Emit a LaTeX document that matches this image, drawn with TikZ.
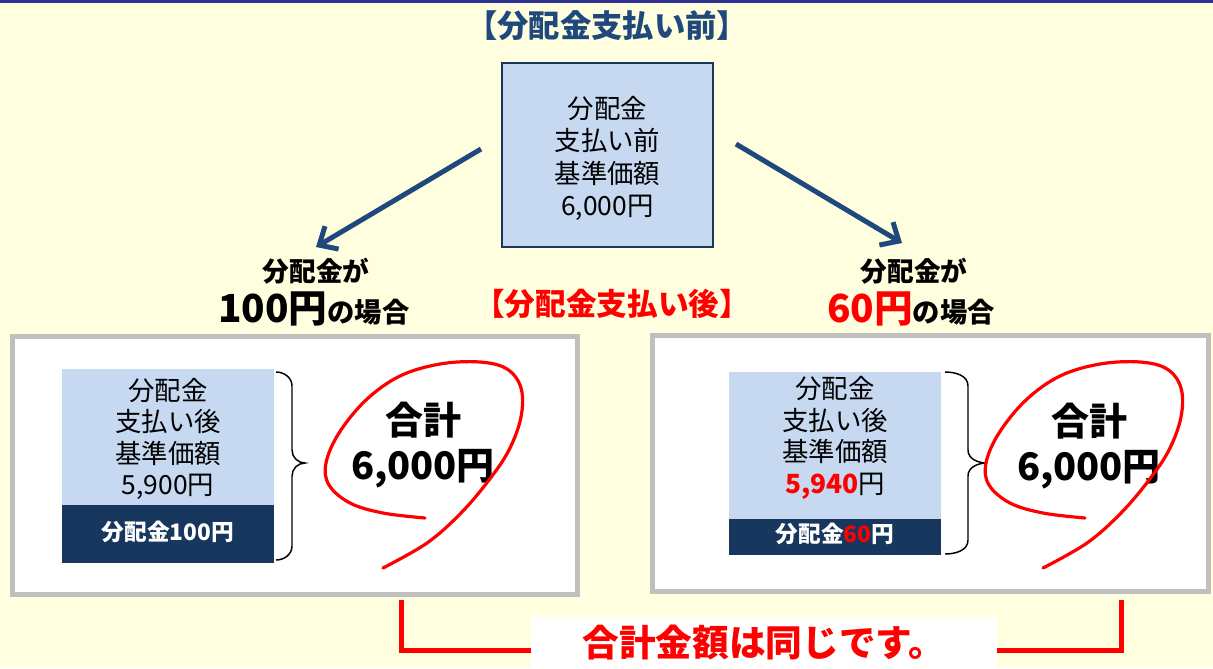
\documentclass[tikz,border=0pt]{standalone}
\usepackage{fontspec}
\setmainfont{Noto Sans CJK JP}
\usetikzlibrary{arrows.meta}
\definecolor{bgyellow}{RGB}{255,255,224}
\definecolor{topline}{RGB}{46,49,146}
\definecolor{titleblue}{RGB}{31,73,125}
\definecolor{paleblue}{RGB}{198,217,241}
\definecolor{darknavy}{RGB}{23,55,94}
\definecolor{panelgray}{RGB}{191,191,191}
\definecolor{hotred}{RGB}{255,0,0}
\newcommand\fsz[2]{\fontsize{#1pt}{#2pt}\selectfont}
\tikzset{
  txt/.style={inner sep=0pt, align=center},
  boxtext/.style={txt, font=\fsz{19.8}{23.6}},
  panel/.style={draw=panelgray, line width=3.75pt, fill=white, inner sep=0pt},
  bluebox/.style={fill=paleblue, inner sep=0pt, minimum width=159pt},
  navybox/.style={fill=darknavy, inner sep=0pt, minimum width=159pt},
  navytext/.style={txt, text=white, font=\fsz{17}{20}\bfseries},
  sumtext/.style={txt, font=\fsz{28.5}{34}\bfseries},
  bluearrow/.style={draw=titleblue, line width=3.75pt, -{Straight Barb[length=11pt,width=20pt]}},
  redloop/.style={draw=hotred, line width=2.4pt, line cap=round, line join=round},
  bracestyle/.style={draw=black, line width=1.1pt},
  redline/.style={draw=hotred, line width=3.75pt},
  headlbl/.style={txt, font=\fsz{20}{24}\bfseries},
}
\begin{document}
\begin{tikzpicture}[x=0.75pt,y=-0.75pt]
\fill[bgyellow] (0,0) rectangle (1213,668);
\useasboundingbox (0,0) rectangle (1213,668);
\fill[topline] (0,0) rectangle (1213,2.5);

% title
\node[txt, text=titleblue, font=\fsz{23.5}{27}\bfseries] (title) at (607,26) {【分配金支払い前】};

% top box
\node[draw=darknavy, line width=1.1pt, fill=paleblue, minimum width=158.25pt, minimum height=138pt, inner sep=0pt] (before) at (607.5,155) {};
\node[boxtext, font=\fsz{19.8}{24.4}] (beforetxt) at (607.5,158.5) {分配金\\支払い前\\基準価額\\6,000円};

% arrows
\coordinate (la) at (481,149);
\coordinate (lb) at (316,247);
\coordinate (ra) at (736,144);
\coordinate (rb) at (902,243);
\draw[bluearrow] (la) -- (lb);
\draw[bluearrow] (ra) -- (rb);

% labels
\node[headlbl] (lcase1) at (316,271) {分配金が};
\node[txt] (lcase2) at (314,309) {{\fsz{29}{34}\bfseries 100円}{\fsz{20.5}{24}\bfseries の場合}};
\node[headlbl] (rcase1) at (914,271) {分配金が};
\node[txt] (rcase2) at (911,309) {{\fsz{29}{34}\bfseries\color{hotred}60円}{\fsz{20.5}{24}\bfseries の場合}};
\node[txt, text=hotred, font=\fsz{23}{27}\bfseries] (after) at (612,304) {【分配金支払い後】};

% left panel
\node[panel, minimum width=423.75pt, minimum height=193.5pt] (lpanel) at (295,465.5) {};
\node[bluebox, minimum height=102pt] (lblue) at (168,437) {};
\node[navybox, minimum height=43.5pt] (lnavy) at (168,534) {};
\node[boxtext] (lbluetxt) at (168,439) {分配金\\支払い後\\基準価額\\5,900円};
\node[navytext] (lnavytxt) at (168,532) {分配金100円};
\draw[bracestyle] (276,372) to[out=0,in=90] (292,386) -- (292,450) to[out=-90,in=180] (305,463)
  to[out=180,in=90] (292,476) -- (292,546) to[out=-90,in=0] (276,560);
\node[sumtext] (lsum) at (423,445) {合計\\6,000円};
\draw[redloop] plot[smooth, tension=0.6] coordinates {(425,518) (383,513) (350,503) (329,485) (326,463) (339,433) (366,400) (400,376) (440,364) (480,362) (507,369) (521,388) (521,417) (509,450) (489,480) (461,513) (427,543) (383,568)};

% right panel
\node[panel, minimum width=417pt, minimum height=192pt] (rpanel) at (930,463) {};
\node[bluebox, minimum height=110.25pt] (rblue) at (835,445.5) {};
\node[navybox, minimum height=27pt] (rnavy) at (835,537) {};
\node[boxtext] (rbluetxt) at (835,438) {分配金\\支払い後\\基準価額\\{\bfseries\color{hotred}5,940}円};
\node[navytext] (rnavytxt) at (835,534) {分配金{\color{hotred}60}円};
\draw[bracestyle] (945,372) to[out=0,in=90] (968,386) -- (968,450) to[out=-90,in=180] (987,463)
  to[out=180,in=90] (968,476) -- (968,540) to[out=-90,in=0] (945,554);
\node[sumtext] (rsum) at (1089,446) {合計\\6,000円};
\begin{scope}[shift={(660,0)}]
\draw[redloop] plot[smooth, tension=0.6] coordinates {(425,518) (383,513) (350,503) (329,485) (326,463) (339,433) (366,400) (400,376) (440,364) (480,362) (507,369) (521,388) (521,417) (509,450) (489,480) (461,513) (427,543) (383,568)};
\end{scope}

% bottom bracket
\coordinate (bl1) at (401,600);
\coordinate (bl2) at (401,650);
\coordinate (br2) at (1121,650);
\coordinate (br1) at (1121,600);
\draw[redline] (bl1) -- (bl2) -- (br2) -- (br1);
\node[fill=white, minimum width=349.5pt, minimum height=39pt, inner sep=0pt, text=hotred, font=\fsz{27.5}{31}\bfseries] (same) at (764,643) {合計金額は同じです。};
\end{tikzpicture}
\end{document}
